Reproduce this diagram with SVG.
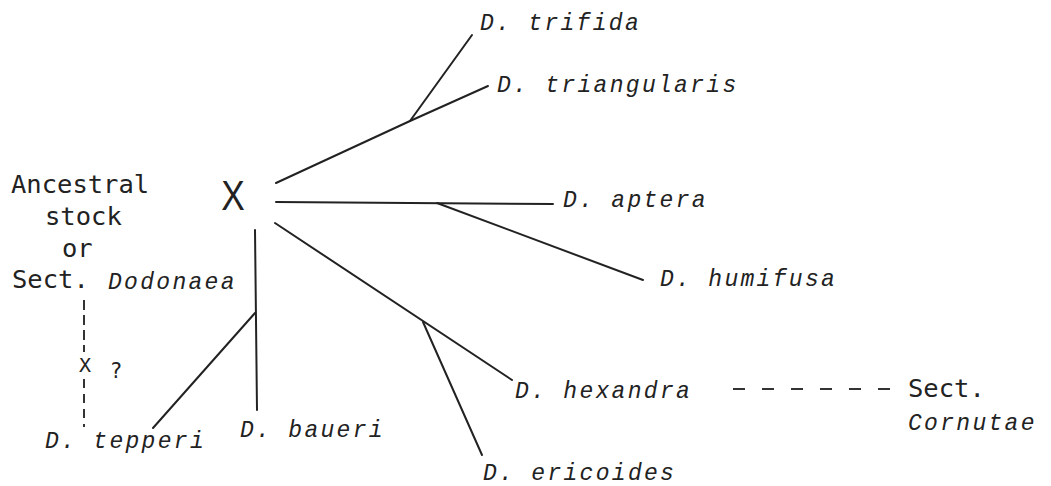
<svg xmlns="http://www.w3.org/2000/svg" width="1051" height="486" viewBox="0 0 1051 486">
<style>
.sp{font-family:"Liberation Mono","Courier New",monospace;font-style:italic;font-size:23px;letter-spacing:2.3px;fill:#222}
.up{font-family:"DejaVu Sans Mono",monospace;font-size:25.5px;fill:#222}
.ln{stroke:#222;stroke-width:2;fill:none;stroke-linecap:round}
.dash{stroke:#333;stroke-width:2;fill:none}
</style>
<rect width="1051" height="486" fill="#fff"/>
<g id="connectors">
<line class="ln" x1="276" y1="183" x2="410" y2="121"/>
<line class="ln" x1="410" y1="121" x2="472" y2="35"/>
<line class="ln" x1="410" y1="121" x2="488" y2="86"/>
<line class="ln" x1="276" y1="202" x2="553" y2="204"/>
<line class="ln" x1="437" y1="203" x2="643" y2="280"/>
<line class="ln" x1="275" y1="223" x2="512" y2="380"/>
<line class="ln" x1="423" y1="322" x2="482" y2="455"/>
<line class="ln" x1="255" y1="230" x2="257" y2="410"/>
<line class="ln" x1="255" y1="313" x2="153" y2="428"/>
<line class="dash" x1="84" y1="300" x2="84" y2="352" stroke-dasharray="10 5"/>
<line class="dash" x1="84" y1="379" x2="84" y2="427" stroke-dasharray="9 6"/>
<line class="dash" x1="733" y1="389" x2="897" y2="389" stroke-dasharray="12 17"/>
</g>
<g id="hybrid-main"><text x="233" y="210" text-anchor="middle" transform="translate(233 0) scale(0.82 1) translate(-233 0)" style="font-family:'Liberation Sans',Arial,sans-serif;font-size:43px;fill:#222">X</text></g>
<g id="ancestral">
<text class="up" x="11" y="193">Ancestral</text>
<text class="up" x="45" y="225">stock</text>
<text class="up" x="62" y="257">or</text>
<text class="up" x="12" y="288">Sect.</text>
<text class="sp" x="108" y="289">Dodonaea</text>
</g>
<g id="hybrid-small">
<text x="85" y="372" text-anchor="middle" style="font-family:'DejaVu Sans Mono',monospace;font-size:20px;fill:#222">X</text>
<text x="116" y="378" text-anchor="middle" style="font-family:'DejaVu Sans Mono',monospace;font-size:21px;fill:#222">?</text>
</g>
<g id="trifida"><text class="sp" x="480" y="30">D. trifida</text></g>
<g id="triangularis"><text class="sp" x="497" y="92">D. triangularis</text></g>
<g id="aptera"><text class="sp" x="563" y="207">D. aptera</text></g>
<g id="humifusa"><text class="sp" x="660" y="286">D. humifusa</text></g>
<g id="hexandra"><text class="sp" x="515" y="398">D. hexandra</text></g>
<g id="ericoides"><text class="sp" x="483" y="480">D. ericoides</text></g>
<g id="tepperi"><text class="sp" x="45" y="448">D. tepperi</text></g>
<g id="baueri"><text class="sp" x="240" y="437">D. baueri</text></g>
<g id="cornutae">
<text class="up" x="908" y="397">Sect.</text>
<text class="sp" x="908" y="430">Cornutae</text>
</g>
</svg>
